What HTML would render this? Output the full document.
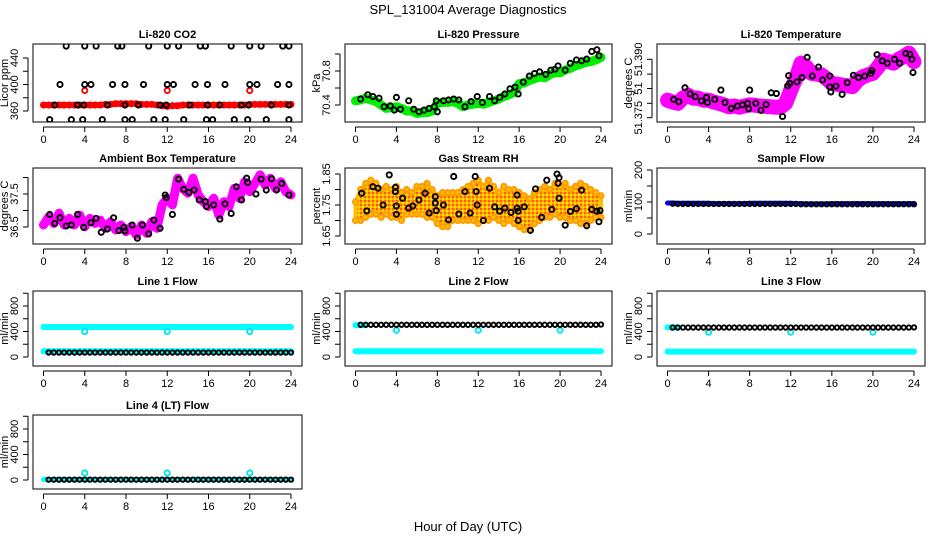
<!DOCTYPE html>
<html><head><meta charset="utf-8"><style>
html,body{margin:0;padding:0;background:#fff;}
svg{display:block;font-family:"Liberation Sans",sans-serif;}
</style></head><body>
<svg id="c" width="936" height="540" viewBox="0 0 936 540" xmlns="http://www.w3.org/2000/svg">
<defs>
<pattern id="rhpat" width="4" height="4" patternUnits="userSpaceOnUse">
<rect width="4" height="4" fill="#ffb000"/>
<rect x="0" y="0" width="2" height="2" fill="#ff5a00"/>
<rect x="2" y="2" width="2" height="2" fill="#ffe000"/>
</pattern>
</defs>
<text x="468" y="14" text-anchor="middle" font-size="13">SPL_131004  Average Diagnostics</text>
<text x="468" y="531" text-anchor="middle" font-size="13">Hour of Day (UTC)</text>
</svg>
<script>
// ---------- data ----------
const hours = [0,0.5,1,1.5,2,2.5,3,3.5,4,4.5,5,5.5,6,6.5,7,7.5,8,8.5,9,9.5,10,10.5,11,11.5,12,12.5,13,13.5,14,14.5,15,15.5,16,16.5,17,17.5,18,18.5,19,19.5,20,20.5,21,21.5,22,22.5,23,23.5,24];
const xTicks = [0,4,8,12,16,20,24];

const co2Red = [369,369,369,369,369,369,369,369,369,369,369,369,370,370,371,371,371,371,371,370,370,370,369,368,367,368,368,369,369,369,369,369,369,369,369,369,369,369,369,369,370,370,370,370,370,370,370,370,370];
const co2OutH = [4,12,20];
const co2OutV = [391,391,391];
const co2BlackH = [2.2,4,5.1,7.2,7.6,10.2,12,13.1,15.2,15.7,18.2,20,21.1,23.2,23.8, 1.6,4,4.6,6.7,7.9,9.7,12,12.6,14.7,15.9,17.6,20,20.7,22.7,23.8, 1.1,3.3,3.9,6.2,7.9,9.2,11.3,11.9,14.2,15.9,17.1,19.2,19.9,22.1,23.8, 0.6,2.7,3.8,5.7,7.9,8.6,10.7,11.8,13.6,15.8,16.4,18.5,19.8,21.6,23.8];
const co2BlackV = [458,458,458,458,458,458,458,458,458,458,458,458,458,458,458, 400,400,400,400,400,400,400,400,400,400,400,400,400,400,400, 369,369,369,369,369,369,369,369,369,369,369,369,369,369,369, 347,347,347,347,347,347,347,347,347,347,347,347,347,347,347];

const presGreen = [70.45,70.46,70.48,70.46,70.44,70.40,70.36,70.37,70.38,70.36,70.33,70.33,70.30,70.31,70.31,70.33,70.42,70.43,70.43,70.44,70.42,70.38,70.40,70.41,70.42,70.41,70.43,70.45,70.47,70.50,70.52,70.55,70.65,70.66,70.69,70.71,70.73,70.72,70.76,70.78,70.78,70.81,70.83,70.86,70.88,70.90,70.91,70.93,70.96];
const presBlackH = [0.5,1.2,1.7,2.3,2.8,3.4,3.8,4,4.4,5.2,5.7,6.2,6.7,7.2,7.7,7.9,8,8.6,9.1,9.6,10.1,10.7,11.3,11.9,12.4,13.1,13.6,14.1,14.6,15.1,15.6,15.9,16.4,17.0,17.5,18.0,18.6,19.1,19.5,19.8,20.5,21.0,21.6,22.1,22.6,23.1,23.6,23.8];
const presBlackV = [70.47,70.52,70.50,70.48,70.38,70.39,70.34,70.49,70.35,70.45,70.35,70.32,70.34,70.36,70.38,70.45,70.32,70.45,70.46,70.47,70.46,70.38,70.44,70.50,70.43,70.50,70.45,70.49,70.53,70.59,70.61,70.53,70.67,70.74,70.77,70.79,70.76,70.81,70.82,70.86,70.81,70.89,70.93,70.92,70.94,71.03,71.05,70.98];

const tempMag = [51.3795,51.3790,51.3787,51.3800,51.3808,51.3800,51.3800,51.3795,51.3795,51.3790,51.3787,51.3783,51.3778,51.3780,51.3777,51.3780,51.3783,51.3782,51.3780,51.3779,51.3778,51.3777,51.3777,51.3787,51.3821,51.3851,51.3890,51.3881,51.3864,51.3862,51.3860,51.3850,51.3838,51.3836,51.3834,51.3832,51.3830,51.3845,51.3855,51.3860,51.3864,51.3880,51.3898,51.3894,51.3890,51.3900,51.3907,51.3916,51.3894];
const tempBlackH = [0.6,1.1,1.7,2.2,2.7,3.3,3.8,3.9,4.6,5.2,5.6,6.2,6.8,7.3,7.8,7.9,8,8.6,9.1,9.6,10.1,10.6,11.2,11.7,11.8,11.9,12.6,13.1,13.6,14.1,14.7,15.1,15.8,15.8,15.9,16.4,17.0,17.5,18.1,18.6,19.2,19.8,19.9,20.4,20.9,21.4,22.1,22.6,23.2,23.6,23.8,23.9];
const tempBlackV = [51.3797,51.3791,51.3827,51.3811,51.3804,51.3793,51.3802,51.3789,51.3797,51.3821,51.3789,51.3774,51.3780,51.3783,51.3787,51.3773,51.3821,51.3787,51.3769,51.3784,51.3814,51.3812,51.3753,51.3832,51.3858,51.3838,51.3842,51.3853,51.3905,51.3857,51.3880,51.3847,51.3857,51.3829,51.3816,51.3831,51.3810,51.3840,51.3859,51.3853,51.3857,51.3864,51.3871,51.3912,51.3896,51.3890,51.3900,51.3890,51.3915,51.3913,51.3900,51.3866];

const ambMag = [36.56,36.81,36.61,36.92,36.56,36.76,36.56,36.86,36.51,36.76,36.61,36.71,36.46,36.66,36.41,36.56,36.36,36.51,36.26,36.56,36.31,36.66,36.46,37.17,37.37,37.17,37.98,37.67,37.52,37.98,37.47,37.27,37.12,37.37,36.86,37.27,37.12,37.67,37.37,37.87,37.57,37.82,38.08,37.77,37.98,37.67,37.87,37.57,37.47];
const ambBlackH = [0.6,1.1,1.6,2.2,2.7,3.3,3.9,4.6,5.1,5.6,6.2,6.8,7.3,7.8,7.9,8.6,9.1,9.6,10.2,10.7,11.3,11.8,11.9,12.5,13.1,13.6,14.1,14.6,15.1,15.7,15.8,16.5,17.1,17.6,18.2,18.7,19.2,19.7,19.8,20.6,21.1,21.6,22.1,22.6,23.1,23.8];
const ambBlackV = [36.88,36.61,36.78,36.53,36.56,36.88,36.49,36.63,36.76,36.34,36.44,36.78,36.39,36.49,36.38,36.56,36.16,36.56,36.29,36.71,36.46,37.47,37.39,36.88,37.95,37.64,37.55,37.62,37.32,37.27,37.12,37.17,36.74,37.20,36.91,37.72,37.32,37.98,37.85,37.50,37.95,37.62,37.96,37.62,37.82,37.47];

const rhHi = [1.76,1.80,1.82,1.83,1.82,1.80,1.81,1.80,1.81,1.79,1.80,1.79,1.81,1.81,1.82,1.80,1.78,1.79,1.79,1.79,1.79,1.80,1.81,1.82,1.83,1.81,1.83,1.81,1.79,1.81,1.80,1.80,1.79,1.78,1.77,1.79,1.80,1.81,1.80,1.82,1.81,1.82,1.80,1.81,1.82,1.81,1.80,1.79,1.78];
const rhLo = [1.70,1.70,1.71,1.72,1.72,1.71,1.72,1.71,1.71,1.70,1.72,1.72,1.72,1.72,1.71,1.71,1.69,1.68,1.68,1.70,1.70,1.70,1.70,1.70,1.69,1.70,1.70,1.71,1.70,1.69,1.70,1.69,1.68,1.67,1.67,1.69,1.70,1.71,1.71,1.72,1.71,1.71,1.70,1.70,1.69,1.69,1.70,1.71,1.71];
const rhBlackH = [0.6,1.1,1.7,2.2,2.7,3.3,3.9,3.9,4,4,4.6,5.2,5.6,6.2,6.8,7.2,7.8,7.8,7.9,8.6,9.1,9.6,10.1,10.7,11.2,11.7,11.8,11.9,12.5,13.1,13.6,14.1,14.6,15.2,15.8,15.8,15.9,15.9,16.5,17.1,17.6,18.2,18.7,19.2,19.7,19.8,19.9,19.9,20.5,21.0,21.6,22.1,22.6,23.1,23.6,23.8,23.9];
const rhBlackV = [1.788,1.731,1.809,1.804,1.750,1.847,1.807,1.793,1.747,1.720,1.772,1.740,1.747,1.766,1.788,1.724,1.777,1.756,1.732,1.750,1.702,1.842,1.721,1.793,1.724,1.842,1.793,1.750,1.700,1.804,1.744,1.730,1.740,1.726,1.740,1.782,1.730,1.700,1.744,1.668,1.802,1.710,1.830,1.736,1.850,1.820,1.838,1.772,1.685,1.729,1.738,1.798,1.683,1.736,1.730,1.696,1.732];

const sampleBlue = [97,97,96,96,96,96,96,96,96,95,95,95,95,95,95,95,96,96,96,96,96,96,96,96,96,95,95,94,94,94,94,94,95,95,95,95,95,95,95,95,95,95,95,95,95,95,95,95,95];
const sampleBlack = [95,95,94,94,94,94,94,94,94,94,94,94,94,94,94,94,94,94,94,94,94,94,94,94,94,94,93,93,93,93,93,93,93,93,93,93,93,93,93,93,93,93,93,93,93,93,93,93,93];

const l1CyanHi = [470,470,470,470,470,470,470,470,470,470,470,470,470,470,470,470,470,470,470,470,470,470,470,470,470,470,470,470,470,470,470,470,470,470,470,470,470,470,470,470,470,470,470,470,470,470,470,470,470];
const l1CyanLo = [90,90,90,90,90,90,90,90,90,90,90,90,90,90,90,90,90,90,90,90,90,90,90,90,90,90,90,90,90,90,90,90,90,90,90,90,90,90,90,90,90,90,90,90,90,90,90,90,90];
const l1Black = [70,70,70,70,70,70,70,70,70,70,70,70,70,70,70,70,70,70,70,70,70,70,70,70,70,70,70,70,70,70,70,70,70,70,70,70,70,70,70,70,70,70,70,70,70,70,70,70,70];
const l1OutV = [400,400,400];

const l2CyanHi = [500,500,500];
const l2CyanLo = [90,90,90,90,90,90,90,90,90,90,90,90,90,90,90,90,90,90,90,90,90,90,90,90,90,90,90,90,90,90,90,90,90,90,90,90,90,90,90,90,90,90,90,90,90,90,90,90,90];
const l2Black = [505,505,505,505,505,505,505,505,505,505,505,505,505,505,505,505,505,505,505,505,505,505,505,505,505,505,505,505,505,505,505,505,505,505,505,505,505,505,505,505,505,505,505,505,505,505,505,505,510];
const l2OutV = [420,420,420];

const l3CyanHi = [465,465,465];
const l3CyanLo = [85,85,85,85,85,85,85,85,85,85,85,85,85,85,85,85,85,85,85,85,85,85,85,85,85,85,85,85,85,85,85,85,85,85,85,85,85,85,85,85,85,85,85,85,85,85,85,85,85];
const l3Black = [462,462,462,462,462,462,462,462,462,462,462,462,462,462,462,462,462,462,462,462,462,462,462,462,462,462,462,462,462,462,462,462,462,462,462,462,462,462,462,462,462,462,462,462,462,462,462,462,465];
const l3OutV = [390,390,390];

const l4Cyan = [8,8,8,8,8,8,8,8,8,8,8,8,8,8,8,8,8,8,8,8,8,8,8,8,8,8,8,8,8,8,8,8,8,8,8,8,8,8,8,8,8,8,8,8,8,8,8,8,8];
const l4Black = [6,6,6,6,6,6,6,6,6,6,6,6,6,6,6,6,6,6,6,6,6,6,6,6,6,6,6,6,6,6,6,6,6,6,6,6,6,6,6,6,6,6,6,6,6,6,6,6,6];
const l4OutV = [110,110,110];
const outH = [4,12,20];

const flowTicks = [0,200,400,600,800,1000];
const flowLabels = ['0','','400','','800',''];

// ---------- helpers ----------
const svg = document.getElementById('c');
const NS = 'http://www.w3.org/2000/svg';
function mk(tag, attrs, parent){
  const e = document.createElementNS(NS, tag);
  for (const k in attrs) e.setAttribute(k, attrs[k]);
  (parent||svg).appendChild(e);
  return e;
}

function makePanel(name, title, ytitle, box, vA, yA, vB, yB, yticks, ylabels){
  const g = mk('g', {});
  
  
  const X = h => box.x0 + 10.5 + h * (box.x1 - box.x0 - 21.5) / 24;
  const Y = v => yA + (v - vA) * (yB - yA) / (vB - vA);
  const clip = mk('clipPath', {id: 'clip-' + name}, g);
  mk('rect', {x: box.x0, y: box.y0, width: box.x1 - box.x0, height: box.y1 - box.y0}, clip);
  const plot = mk('g', {'clip-path': 'url(#clip-' + name + ')'}, g);
  const t = mk('text', {x: (box.x0 + box.x1) / 2, y: box.y0 - 6, 'text-anchor': 'middle', 'font-size': 11, 'font-weight': 'bold'}, g);
  t.textContent = title;
  
  
  const fr = mk('rect', {x: box.x0, y: box.y0, width: box.x1 - box.x0, height: box.y1 - box.y0, fill: 'none', stroke: '#000', 'stroke-width': 1}, g);
  
  
  const xb = box.y1 + 5;
  mk('line', {x1: X(xTicks[0]), x2: X(xTicks[xTicks.length - 1]), y1: xb, y2: xb, stroke: '#000'}, g);
  xTicks.forEach(v => {
    mk('line', {x1: X(v), x2: X(v), y1: xb, y2: xb + 5, stroke: '#000'}, g);
    const l = mk('text', {x: X(v), y: xb + 16, 'text-anchor': 'middle', 'font-size': 11}, g);
    l.textContent = v;
    
    
  });
  const yb = box.x0 - 5;
  mk('line', {x1: yb, x2: yb, y1: Y(yticks[0]), y2: Y(yticks[yticks.length - 1]), stroke: '#000'}, g);
  yticks.forEach((v, i) => {
    mk('line', {x1: yb, x2: yb - 5, y1: Y(v), y2: Y(v), stroke: '#000'}, g);
    if (ylabels[i]) {
      const l = mk('text', {x: 0, y: 0, 'text-anchor': 'middle', 'font-size': 11, transform: 'translate(' + (box.x0 - 15) + ',' + Y(v) + ') rotate(-90)'}, g);
      l.textContent = ylabels[i];
      
      
    }
  });
  const yt = mk('text', {x: 0, y: 0, 'text-anchor': 'middle', 'font-size': 11, transform: 'translate(' + (box.x0 - 25) + ',' + ((box.y0 + box.y1) / 2) + ') rotate(-90)'}, g);
  yt.textContent = ytitle;
  
  
  return {X, Y, plot};
}
function band(p, hs, vs, color, w, name){
  const pts = hs.map((h, i) => p.X(h).toFixed(1) + ',' + p.Y(vs[i]).toFixed(1)).join(' ');
  const pl = mk('polyline', {points: pts, fill: 'none', stroke: color, 'stroke-width': w, 'stroke-linejoin': 'round', 'stroke-linecap': 'round'}, p.plot);
  
  
}
function pts(p, hs, vs, color, name, r){
  const g = mk('g', {}, p.plot);
  
  
  hs.forEach((h, i) => {
    const c = mk('circle', {cx: p.X(h), cy: p.Y(vs[i]), r: r || 2.6, fill: 'none', stroke: color, 'stroke-width': 1.9}, g);
    
    
  });
}

const cols = [[33,302],[345,612],[657,925]];
const rows = [[44,122],[168,244],[291,366],[415,489]];
function B(r, c){ return {x0: cols[c][0], x1: cols[c][1], y0: rows[r][0], y1: rows[r][1]}; }

let p = makePanel('co2-panel', 'Li-820 CO2', 'Licor ppm', B(0,0), 360, 111, 440, 58, [360,380,400,420,440], ['360','','400','','440']);
band(p, hours, co2Red, '#ff0000', 6, 'co2-red-series');
pts(p, hours, co2Red, '#ff0000', 'co2-red-points');
pts(p, co2OutH, co2OutV, '#ff0000', 'co2-red-outliers');
pts(p, co2BlackH, co2BlackV, '#000', 'co2-black-points');

p = makePanel('pressure-panel', 'Li-820 Pressure', 'kPa', B(0,1), 70.4, 105, 70.8, 71, [70.4,70.6,70.8,71.0], ['70.4','','70.8','']);
band(p, hours, presGreen, '#00ee00', 9, 'pressure-green-series');
pts(p, presBlackH, presBlackV, '#000', 'pressure-black-points');

p = makePanel('li820-temp-panel', 'Li-820 Temperature', 'degrees C', B(0,2), 51.375, 117.7, 51.39, 59.3, [51.375,51.3787,51.3825,51.3862,51.39], ['51.375','','51','','51.390']);
band(p, hours, tempMag, '#ff00ff', 15, 'li820-temp-magenta-series');
pts(p, hours, tempMag, '#ff00ff', 'li820-temp-magenta-points', 3);
pts(p, tempBlackH, tempBlackV, '#000', 'li820-temp-black-points');

p = makePanel('ambient-temp-panel', 'Ambient Box Temperature', 'degrees C', B(1,0), 36.5, 227, 37.5, 194, [36.5,37.0,37.5,38.0], ['36.5','','37.5','']);
band(p, hours, ambMag, '#ff00ff', 9, 'ambient-magenta-series');
pts(p, ambBlackH, ambBlackV, '#000', 'ambient-black-points');

p = makePanel('rh-panel', 'Gas Stream RH', 'percent', B(1,1), 1.65, 236, 1.85, 174, [1.65,1.70,1.75,1.80,1.85], ['1.65','','1.75','','1.85']);
{
  const up = hours.map((h, i) => p.X(h).toFixed(1) + ',' + p.Y(rhHi[i]).toFixed(1));
  const dn = hours.map((h, i) => p.X(h).toFixed(1) + ',' + p.Y(rhLo[i]).toFixed(1)).reverse();
  const poly = mk('polygon', {points: up.concat(dn).join(' '), fill: 'url(#rhpat)', stroke: '#ffc000', 'stroke-width': 4, 'stroke-linejoin': 'round'}, p.plot);
  
  
}
pts(p, hours, rhHi, '#ff9a00', 'rh-upper-points');
pts(p, hours, rhLo, '#ff9a00', 'rh-lower-points');
pts(p, rhBlackH, rhBlackV, '#000', 'rh-black-points');

p = makePanel('sample-flow-panel', 'Sample Flow', 'ml/min', B(1,2), 0, 234, 200, 170, [0,50,100,150,200], ['0','','100','','200']);
band(p, hours, sampleBlue, '#0000ff', 5, 'sample-blue-series');
pts(p, hours.slice(1), sampleBlack.slice(1), '#000', 'sample-black-points', 2.2);

function flowPanel(name, title, r, c){
  return makePanel(name, title, 'ml/min', B(r,c), 0, rows[r][1] - 9, 800, rows[r][1] - 60, flowTicks, flowLabels);
}
p = flowPanel('line1-flow-panel', 'Line 1 Flow', 2, 0);
band(p, hours, l1CyanHi, '#00ffff', 6, 'line1-cyan-high');
band(p, hours, l1CyanLo, '#00ffff', 6, 'line1-cyan-low');
pts(p, outH, l1OutV, '#00e5ee', 'line1-cyan-outliers');
pts(p, hours.slice(1), l1Black.slice(1), '#000', 'line1-black-points', 2.2);

p = flowPanel('line2-flow-panel', 'Line 2 Flow', 2, 1);
band(p, hours.slice(0,3), l2CyanHi, '#00ffff', 6, 'line2-cyan-high');
band(p, hours, l2CyanLo, '#00ffff', 6, 'line2-cyan-low');
pts(p, outH, l2OutV, '#00e5ee', 'line2-cyan-outliers');
pts(p, hours.slice(1), l2Black.slice(1), '#000', 'line2-black-points', 2.2);

p = flowPanel('line3-flow-panel', 'Line 3 Flow', 2, 2);
band(p, hours.slice(0,3), l3CyanHi, '#00ffff', 6, 'line3-cyan-high');
band(p, hours, l3CyanLo, '#00ffff', 6, 'line3-cyan-low');
pts(p, outH, l3OutV, '#00e5ee', 'line3-cyan-outliers');
pts(p, hours.slice(1), l3Black.slice(1), '#000', 'line3-black-points', 2.2);

p = flowPanel('line4-flow-panel', 'Line 4 (LT) Flow', 3, 0);
band(p, hours, l4Cyan, '#00ffff', 5, 'line4-cyan-series');
pts(p, outH, l4OutV, '#00e5ee', 'line4-cyan-outliers');
pts(p, hours.slice(1), l4Black.slice(1), '#000', 'line4-black-points', 2.2);
</script>
</body></html>
